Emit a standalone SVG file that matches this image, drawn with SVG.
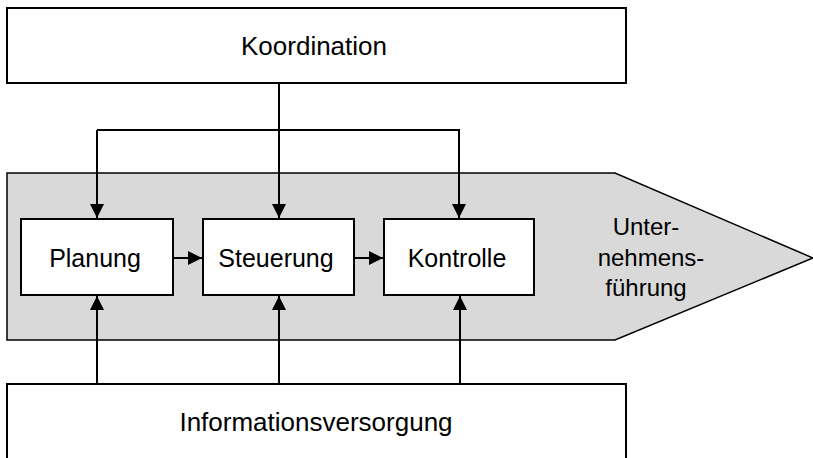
<svg xmlns="http://www.w3.org/2000/svg" width="813" height="458" viewBox="0 0 813 458">
<defs>
<style>
.box{fill:#fff;stroke:#000;stroke-width:2}
.lbl{font-family:"Liberation Sans",Arial,sans-serif;fill:#000;text-anchor:middle}
.ln{fill:none;stroke:#000;stroke-width:2}
</style>
<marker id="ah" viewBox="0 0 10 10" refX="10" refY="5" markerWidth="16" markerHeight="14" markerUnits="userSpaceOnUse" orient="auto">
<path d="M0,0 L10,5 L0,10 Z" fill="#000"/>
</marker>
</defs>
<g id="unternehmensfuehrung">
<path d="M7,173 L615,173 L813,258 L615,340 L7,340 Z" fill="#d9d9d9" stroke="#000" stroke-width="1.5"/>
<text class="lbl" font-size="24" x="646" y="235">Unter-</text>
<text class="lbl" font-size="24" x="651" y="266">nehmens-</text>
<text class="lbl" font-size="24" x="646" y="296">führung</text>
</g>
<g id="koordination">
<rect class="box" x="7" y="8" width="619" height="75"/>
<text class="lbl" font-size="26" x="314" y="55">Koordination</text>
</g>
<g id="informationsversorgung">
<rect class="box" x="7" y="384" width="619" height="90"/>
<text class="lbl" font-size="26" x="316" y="431">Informationsversorgung</text>
</g>
<g id="planung">
<rect class="box" x="21" y="219" width="152" height="76"/>
<text class="lbl" font-size="25" x="95" y="267">Planung</text>
</g>
<g id="steuerung">
<rect class="box" x="203" y="219" width="151" height="76"/>
<text class="lbl" font-size="25" x="276" y="267">Steuerung</text>
</g>
<g id="kontrolle">
<rect class="box" x="384" y="219" width="150" height="76"/>
<text class="lbl" font-size="25" x="457" y="267">Kontrolle</text>
</g>
<g id="connectors">
<line class="ln" x1="279" y1="83" x2="279" y2="218" marker-end="url(#ah)"/>
<path class="ln" d="M97,130 L459,130 L459,218" marker-end="url(#ah)"/>
<line class="ln" x1="97" y1="130" x2="97" y2="218" marker-end="url(#ah)"/>
<line class="ln" x1="173" y1="258" x2="202" y2="258" marker-end="url(#ah)"/>
<line class="ln" x1="354" y1="258" x2="383" y2="258" marker-end="url(#ah)"/>
<line class="ln" x1="97" y1="384" x2="97" y2="296" marker-end="url(#ah)"/>
<line class="ln" x1="279" y1="384" x2="279" y2="296" marker-end="url(#ah)"/>
<line class="ln" x1="460" y1="384" x2="460" y2="296" marker-end="url(#ah)"/>
</g>
</svg>
